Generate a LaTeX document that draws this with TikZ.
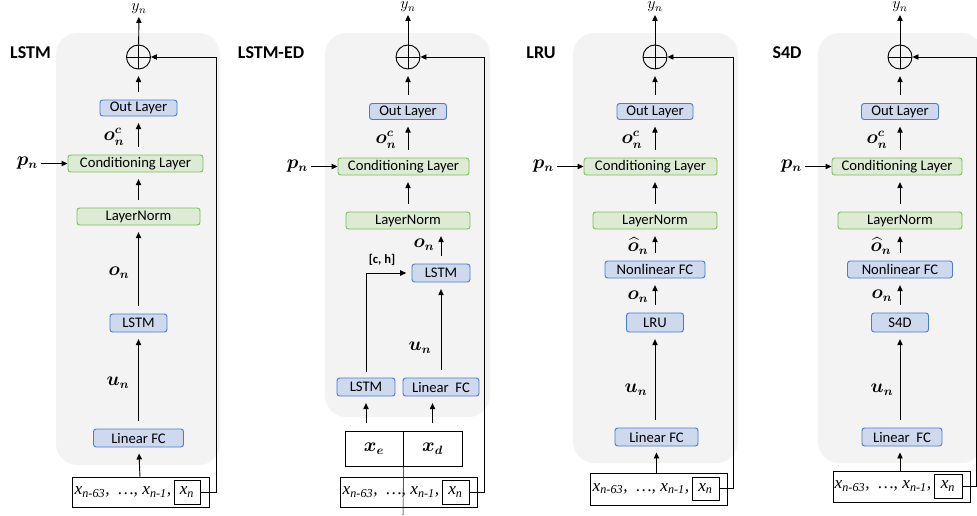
\documentclass[tikz,border=0pt]{standalone}
\usepackage{amsmath,amssymb,bm}
\usepackage{fontspec}
\setmainfont{Carlito}
\newfontfamily\tms{Liberation Serif}
\usepackage{tikz}
\usetikzlibrary{arrows.meta,positioning,calc}

\definecolor{boxblue}{RGB}{206,217,238}
\definecolor{lineblue}{RGB}{74,123,208}
\definecolor{boxgreen}{RGB}{221,235,212}
\definecolor{linegreen}{RGB}{122,190,88}
\definecolor{panelgray}{RGB}{243,243,243}

\begin{document}
\begin{tikzpicture}[
    x=0.75pt, y=-0.75pt,
    panel/.style={
        fill=panelgray,
        rounded corners=16pt
    },
    layer/.style={
        rectangle,
        rounded corners=2pt,
        draw=lineblue,
        fill=boxblue,
        line width=0.7pt,
        inner sep=0pt,
        minimum height=12.75pt,
        font=\fontsize{11}{13}\selectfont
    },
    condlayer/.style={
        layer,
        draw=linegreen,
        fill=boxgreen
    },
    addop/.style={
        circle,
        draw,
        line width=0.7pt,
        minimum size=18pt,
        inner sep=0pt,
        path picture={
            \draw[line width=0.7pt] (path picture bounding box.north) -- (path picture bounding box.south)
                (path picture bounding box.west) -- (path picture bounding box.east);
        }
    },
    arrow/.style={
        -{Triangle[length=4.5pt,width=4pt]},
        line width=0.7pt
    },
    uparrow/.style={
        arrow,
        shorten <=6pt,
        shorten >=5pt
    },
    sym/.style={
        font=\fontsize{13.5}{15}\selectfont,
        inner sep=0pt
    },
    outsym/.style={
        font=\fontsize{12}{14}\selectfont,
        inner sep=0pt
    },
    panelname/.style={
        font=\fontsize{13.5}{16}\selectfont\bfseries
    },
    seqbox/.style={
        draw,
        line width=0.7pt,
        inner sep=0pt
    },
    seqtext/.style={
        font=\tms\itshape\fontsize{13}{15}\selectfont,
        inner sep=1pt
    }
]
\useasboundingbox (0,0) rectangle (977,515);

% Panel backgrounds
\fill[panel] (56,33) rectangle (220,465);
\fill[panel] (325,33) rectangle (490,417);
\fill[panel] (573,33) rectangle (738,463);
\fill[panel] (818,33) rectangle (983,463);

% ---------- LSTM ----------
\node[panelname] (t1) at (30.5,53) {LSTM};
\node[addop] (add1) at (138.5,57) {};
\node[outsym] (y1) at (139,9) {$y_n$};
\node[layer, minimum width=57.75pt, minimum height=12pt] (out1) at (138.5,108) {Out Layer};
\node[condlayer, minimum width=101.25pt] (cond1) at (135.5,163.5) {Conditioning Layer};
\node[condlayer, minimum width=92.25pt] (norm1) at (138.5,216.5) {LayerNorm};
\node[layer, minimum width=42.75pt, minimum height=13.5pt] (lstm1) at (138.5,323) {LSTM};
\node[layer, minimum width=67.5pt, minimum height=13.5pt] (lin1) at (138.5,438) {Linear FC};
\node[seqbox, minimum width=102.75pt, minimum height=22.5pt] (in1) at (140.5,492) {};
\node[seqbox, seqtext, minimum width=19.5pt, minimum height=18pt] (xn1) at (187,492) {x\textsubscript{n}};
\node[seqtext, left=0.5pt of xn1] (seq1) {x\textsubscript{n-63},\ \ \ldots, x\textsubscript{n-1},};
\node[sym, left=22pt of cond1] (p1) {$\bm{p_n}$};
\node[sym] (oc1) at (114,137) {$\bm{o_n^c}$};
\node[sym] (o1) at (119,273) {$\bm{o_n}$};
\node[sym] (u1) at (118,383) {$\bm{u_n}$};

\draw[arrow, shorten >=4.5pt] (in1) -- (lin1);
\draw[uparrow] (lin1) -- (lstm1);
\draw[uparrow] (lstm1) -- (norm1);
\draw[uparrow] (norm1) -- (norm1.north |- cond1.south);
\draw[uparrow] (out1.south |- cond1.north) -- (out1);
\draw[uparrow] (out1) -- (add1);
\draw[arrow, shorten >=2pt] (add1) -- (y1);
\draw[arrow, shorten <=2pt] (p1) -- (cond1);
\draw[arrow] (xn1.east) -- ++(16,0) |- (add1.east);

% ---------- LSTM-ED ----------
\node[panelname] (t2) at (271,53) {LSTM-ED};
\node[addop] (add2) at (408,57) {};
\node[outsym] (y2) at (408,7) {$y_n$};
\node[layer, minimum width=57.75pt, minimum height=12pt] (out2) at (408,111.5) {Out Layer};
\node[condlayer, minimum width=98.25pt] (cond2) at (403.5,166.5) {Conditioning Layer};
\node[condlayer, minimum width=93pt] (norm2) at (408,220.5) {LayerNorm};
\node[layer, minimum width=43.5pt, minimum height=13.5pt] (dec2) at (441,273) {LSTM};
\node[layer, minimum width=43.5pt, minimum height=13.5pt] (enc2) at (366,387) {LSTM};
\node[layer, minimum width=57pt, minimum height=13.5pt] (lin2) at (441,387) {Linear\ \ FC};
\node[seqbox, sym, minimum width=43.5pt, minimum height=26.25pt] (xe2) at (374,448.5) {$\bm{x_e}$};
\node[seqbox, sym, minimum width=44.25pt, minimum height=26.25pt] (xd2) at (432.5,448.5) {$\bm{x_d}$};
\node[seqbox, minimum width=102.75pt, minimum height=22.5pt] (in2) at (408.5,492) {};
\node[seqbox, seqtext, minimum width=20.25pt, minimum height=18pt] (xn2) at (455.5,492) {x\textsubscript{n}};
\node[seqtext, left=0.5pt of xn2] (seq2) {x\textsubscript{n-63},\ \ \ldots, x\textsubscript{n-1},};
\coordinate (cut2) at (403,515);
\node[sym, left=22pt of cond2] (p2) {$\bm{p_n}$};
\node[sym] (oc2) at (386,140) {$\bm{o_n^c}$};
\node[sym] (o2) at (424,245) {$\bm{o_n}$};
\node[font=\fontsize{9.5}{11}\selectfont\bfseries, inner sep=0pt] (ch2) at (382,260) {[c, h]};
\node[sym] (u2) at (420,348) {$\bm{u_n}$};

\draw (xe2.south east) -- (cut2);
\draw[uparrow] (xe2.north -| enc2.south) -- (enc2);
\draw[uparrow] (xd2) -- (xd2.north |- lin2.south);
\draw[uparrow] (lin2) -- (dec2);
\draw[arrow, shorten <=4.5pt, shorten >=4pt] (enc2) |- (dec2);
\draw[uparrow] (dec2) -- (dec2.north |- norm2.south);
\draw[uparrow] (norm2) -- (norm2.north |- cond2.south);
\draw[uparrow] (out2.south |- cond2.north) -- (out2);
\draw[uparrow] (out2) -- (add2);
\draw[arrow, shorten >=2pt] (add2) -- (y2);
\draw[arrow, shorten <=2pt] (p2) -- (cond2);
\draw[arrow] (xn2.east) -- ++(15,0) |- (add2.east);

% ---------- LRU ----------
\node[panelname] (t3) at (541,53) {LRU};
\node[addop] (add3) at (655,57) {};
\node[outsym] (y3) at (655,7) {$y_n$};
\node[layer, minimum width=57pt, minimum height=12pt] (out3) at (655,111.5) {Out Layer};
\node[condlayer, minimum width=99.75pt] (cond3) at (650.5,166.5) {Conditioning Layer};
\node[condlayer, minimum width=93pt] (norm3) at (655,220.5) {LayerNorm};
\node[layer, minimum width=75pt] (nl3) at (655,269.5) {Nonlinear FC};
\node[layer, minimum width=42.75pt, minimum height=14.25pt] (lru3) at (655,322.5) {LRU};
\node[layer, minimum width=62.25pt, minimum height=13.5pt] (lin3) at (656.5,437) {Linear FC};
\node[seqbox, minimum width=102.75pt, minimum height=24pt] (in3) at (658.5,489) {};
\node[seqbox, seqtext, minimum width=20.25pt, minimum height=17.25pt] (xn3) at (705.5,488.5) {x\textsubscript{n}};
\node[seqtext, left=0.5pt of xn3] (seq3) {x\textsubscript{n-63},\ \ \ldots, x\textsubscript{n-1},};
\node[sym, left=22pt of cond3] (p3) {$\bm{p_n}$};
\node[sym] (oc3) at (632,140) {$\bm{o_n^c}$};
\node[sym] (oh3) at (638,246) {$\bm{\widehat{o}_n}$};
\node[sym] (o3) at (638,297) {$\bm{o_n}$};
\node[sym] (u3) at (636,390) {$\bm{u_n}$};

\draw[arrow, shorten >=4.5pt] (in3.north -| lin3.south) -- (lin3);
\draw[uparrow] (lin3.north -| lru3.south) -- (lru3);
\draw[uparrow] (lru3) -- (nl3);
\draw[uparrow] (nl3) -- (norm3);
\draw[uparrow] (norm3) -- (norm3.north |- cond3.south);
\draw[uparrow] (out3.south |- cond3.north) -- (out3);
\draw[uparrow] (out3) -- (add3);
\draw[arrow, shorten >=2pt] (add3) -- (y3);
\draw[arrow, shorten <=2pt] (p3) -- (cond3);
\draw[arrow] (xn3.east) -- ++(14,0) |- (add3.east);

% ---------- S4D ----------
\node[panelname] (t4) at (787,53) {S4D};
\node[addop] (add4) at (900,57) {};
\node[outsym] (y4) at (900,7) {$y_n$};
\node[layer, minimum width=57.75pt, minimum height=12pt] (out4) at (900,111.5) {Out Layer};
\node[condlayer, minimum width=97.5pt] (cond4) at (897,166.5) {Conditioning Layer};
\node[condlayer, minimum width=93pt] (norm4) at (900,220.5) {LayerNorm};
\node[layer, minimum width=78.75pt] (nl4) at (900,269.5) {Nonlinear FC};
\node[layer, minimum width=42.75pt, minimum height=14.25pt] (s4d4) at (900,322.5) {S4D};
\node[layer, minimum width=60pt, minimum height=13.5pt] (lin4) at (902,437) {Linear\ \ FC};
\node[seqbox, minimum width=102.75pt, minimum height=23.25pt] (in4) at (901.5,486.5) {};
\node[seqbox, seqtext, minimum width=21pt, minimum height=18pt] (xn4) at (948,486) {x\textsubscript{n}};
\node[seqtext, left=0.5pt of xn4] (seq4) {x\textsubscript{n-63},\ \ \ldots, x\textsubscript{n-1},};
\node[sym, left=22pt of cond4] (p4) {$\bm{p_n}$};
\node[sym] (oc4) at (877,140) {$\bm{o_n^c}$};
\node[sym] (oh4) at (881,246) {$\bm{\widehat{o}_n}$};
\node[sym] (o4) at (882,296) {$\bm{o_n}$};
\node[sym] (u4) at (882,390) {$\bm{u_n}$};

\draw[arrow, shorten >=4.5pt] (in4.north -| s4d4.south) -- (s4d4.south |- lin4.south);
\draw[uparrow] (lin4.north -| s4d4.south) -- (s4d4);
\draw[uparrow] (s4d4) -- (nl4);
\draw[uparrow] (nl4) -- (norm4);
\draw[uparrow] (norm4) -- (norm4.north |- cond4.south);
\draw[uparrow] (out4.south |- cond4.north) -- (out4);
\draw[uparrow] (out4) -- (add4);
\draw[arrow, shorten >=2pt] (add4) -- (y4);
\draw[arrow, shorten <=2pt] (p4) -- (cond4);
\draw[arrow] (xn4.east) -- ++(14,0) |- (add4.east);

\end{tikzpicture}
\end{document}
